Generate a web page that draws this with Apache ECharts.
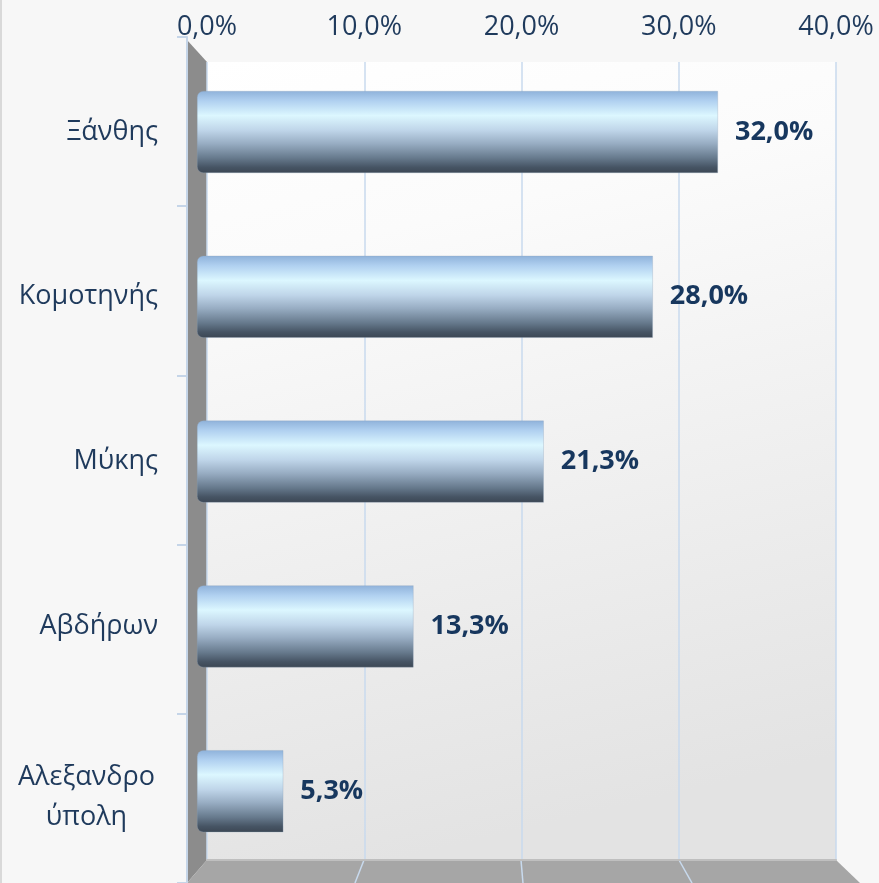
<!DOCTYPE html>
<html>
<head>
<meta charset="utf-8">
<script src="https://cdn.jsdelivr.net/npm/echarts@6/dist/echarts.min.js"></script>
<style>
html,body{margin:0;padding:0;background:#f7f7f7;}
#c{width:879px;height:883px;}
</style>
</head>
<body>
<div id="c"></div>
<script>
// ---- data ----
var categories = ['Ξάνθης', 'Κομοτηνής', 'Μύκης', 'Αβδήρων', 'Αλεξανδρο\nύπολη'];
var values = [32.0, 28.0, 21.3, 13.3, 5.3];
var axisTicks = [0, 10, 20, 30, 40];

function pct(v) { return Number(v).toFixed(1).replace('.', ',') + '%'; }

var FONT = '"Open Sans", "Noto Sans", sans-serif';
var TXT = '#1f3a5c';
var GRID_BLUE = '#c8daee';

var chart = echarts.init(document.getElementById('c'), null, {renderer: 'canvas'});

// front-plane mapping for floor grid lines
function frontX(x) { return 187 + (x - 207) * (673 / 629); }

var floorLines = [];
[364, 521, 679].forEach(function (x) {
  floorLines.push({
    type: 'line', z: -5, silent: true,
    shape: {x1: x, y1: 860, x2: frontX(x), y2: 883},
    style: {stroke: GRID_BLUE, lineWidth: 1.5}
  });
});

var option = {
  backgroundColor: '#f7f7f7',
  animation: false,
  graphic: [
    {type: 'rect', z: -20, silent: true, shape: {x: 0, y: 0, width: 2, height: 883}, style: {fill: '#d9d9d9'}},
    // back wall
    {type: 'rect', z: -20, silent: true, shape: {x: 207, y: 62, width: 629, height: 798},
      style: {fill: new echarts.graphic.LinearGradient(0, 0, 0.3, 1, [
        {offset: 0, color: '#ffffff'}, {offset: 0.25, color: '#fbfbfb'}, {offset: 1, color: '#e3e3e3'}])}},
    // side wall
    {type: 'polygon', z: -6, silent: true, shape: {points: [[187, 40], [207, 62], [207, 860], [187, 883]]},
      style: {fill: '#8c8c8c'}},
    // floor
    {type: 'polygon', z: -6, silent: true, shape: {points: [[207, 860], [836, 860], [860, 883], [187, 883]]},
      style: {fill: '#a6a6a6'}},
    {type: 'line', z: -5, silent: true, shape: {x1: 207, y1: 860.5, x2: 836, y2: 860.5},
      style: {stroke: '#bdbdbd', lineWidth: 1}}
  ].concat(floorLines),
  grid: [
    {left: 207, top: 62, width: 629, height: 798, show: false},
    {left: 197, top: 49.6, width: 651.2, height: 824, show: false},
    {left: 187, top: 37, width: 10, height: 850, show: false}
  ],
  xAxis: [
    {
      gridIndex: 0, type: 'value', position: 'top', min: 0, max: 40, interval: 10,
      axisLine: {show: true, lineStyle: {color: '#bfbfbf', width: 2}},
      axisTick: {show: false},
      axisLabel: {
        show: true, margin: 21, color: TXT, fontSize: 27, fontFamily: FONT,
        formatter: function (v) { return pct(v); },
        customValues: axisTicks
      },
      splitLine: {show: true, lineStyle: {color: GRID_BLUE, width: 1.5}}
    },
    {gridIndex: 1, type: 'value', min: 0, max: 40, show: false},
    {gridIndex: 2, type: 'value', min: 0, max: 1, show: false}
  ],
  yAxis: [
    {gridIndex: 0, type: 'value', show: false},
    {
      gridIndex: 1, type: 'category', inverse: true, data: categories,
      axisLine: {show: false}, axisTick: {show: false},
      axisLabel: {
        margin: 39, color: TXT, fontSize: 27, fontFamily: FONT,
        formatter: function (v) {
          if (v.indexOf('\n') >= 0) {
            var p = v.split('\n');
            return '{c|' + p[0] + '}\n{c|' + p[1] + '}';
          }
          return v;
        },
        rich: {c: {width: 143, align: 'center', fontSize: 27, lineHeight: 40, color: TXT, fontFamily: FONT, padding: [12, 0, 0, 0]}}
      }
    },
    {
      gridIndex: 2, type: 'category', inverse: true, data: categories,
      axisLine: {show: true, lineStyle: {color: '#c5d5e8', width: 2}},
      axisTick: {show: true, length: 10, lineStyle: {color: '#c5d5e8', width: 2}},
      axisLabel: {show: false}
    }
  ],
  series: [{
    type: 'bar',
    xAxisIndex: 1, yAxisIndex: 1,
    data: values,
    barWidth: 82,
    itemStyle: {
      borderRadius: [6, 0, 0, 6],
      borderColor: 'rgba(140,160,185,0.6)', borderWidth: 0.5,
      color: new echarts.graphic.LinearGradient(0, 0, 0, 1, [
        {offset: 0, color: '#8fb2da'},
        {offset: 0.12, color: '#b0d0f0'},
        {offset: 0.3, color: '#dcf7ff'},
        {offset: 0.48, color: '#bfd5e9'},
        {offset: 0.64, color: '#98adc3'},
        {offset: 0.82, color: '#66798c'},
        {offset: 0.93, color: '#465464'},
        {offset: 1, color: '#3c4754'}
      ])
    },
    label: {
      show: true, position: 'right', distance: 17,
      color: '#17375e', fontWeight: 'bold', fontSize: 27, fontFamily: FONT,
      formatter: function (p) { return pct(p.value); }
    },
    z: 5
  }]
};

chart.setOption(option);
</script>
</body>
</html>
